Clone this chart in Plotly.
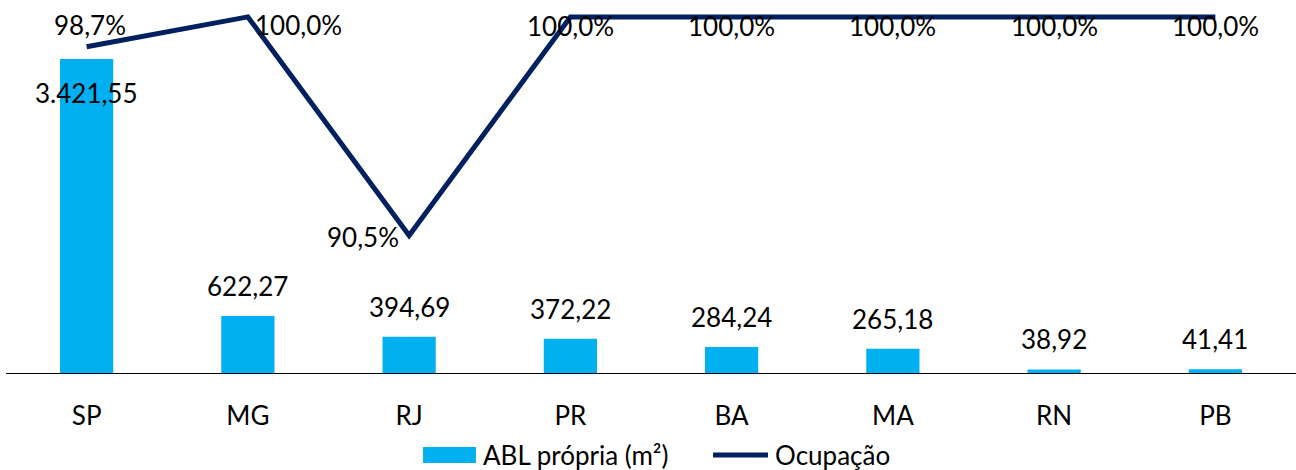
import plotly.graph_objects as go

categories = ["SP", "MG", "RJ", "PR", "BA", "MA", "RN", "PB"]
abl = [3421.55, 622.27, 394.69, 372.22, 284.24, 265.18, 38.92, 41.41]
ocupacao = [98.7, 100.0, 90.5, 100.0, 100.0, 100.0, 100.0, 100.0]
series_names = ["ABL própria (m²)", "Ocupação"]

# label offsets (pixels), matching the reference placement
bar_label_shift = [-34, 30, 30, 30, 30, 30, 30, 30]
line_label_xshift = [3, 51, -46, 0, 0, 0, 0, 0]
line_label_yshift = [22, -8, -2, -9, -9, -9, -9, -9]

FONT = "Lato"
BLUE = "#00B0F0"
NAVY = "#002060"
FS = 26


def br_num(v, d=2):
    s = f"{v:,.{d}f}"
    return s.replace(",", "X").replace(".", ",").replace("X", ".")


fig = go.Figure()
fig.add_trace(go.Bar(
    x=categories, y=abl, name=series_names[0],
    marker=dict(color=BLUE, line=dict(width=0)),
    width=0.33, yaxis="y", showlegend=False,
))
fig.add_trace(go.Scatter(
    x=categories, y=ocupacao, name=series_names[1], mode="lines",
    line=dict(color=NAVY, width=5), yaxis="y2", showlegend=False,
))

annotations = []
for i, (c, v) in enumerate(zip(categories, abl)):
    annotations.append(dict(
        x=c, y=v, xref="x", yref="y", text=br_num(v), showarrow=False,
        yanchor="middle", yshift=bar_label_shift[i],
        font=dict(family=FONT, size=FS, color="#000000"),
    ))
for i, (c, v) in enumerate(zip(categories, ocupacao)):
    annotations.append(dict(
        x=c, y=v, xref="x", yref="y2", text=br_num(v, 1) + "%", showarrow=False,
        yanchor="middle", xshift=line_label_xshift[i], yshift=line_label_yshift[i],
        font=dict(family=FONT, size=FS, color="#000000"),
    ))

# custom legend (wide swatches as in the reference)
annotations.append(dict(x=0.3682, y=-0.2259, xref="paper", yref="paper",
                        text=series_names[0], showarrow=False, xanchor="left",
                        yanchor="middle", font=dict(family=FONT, size=FS)))
annotations.append(dict(x=0.5946, y=-0.2259, xref="paper", yref="paper",
                        text=series_names[1], showarrow=False, xanchor="left",
                        yanchor="middle", font=dict(family=FONT, size=FS)))
shapes = [
    dict(type="rect", xref="paper", yref="paper", x0=0.3233, x1=0.3643,
         y0=-0.2479, y1=-0.2039, fillcolor=BLUE, line=dict(width=0)),
    dict(type="line", xref="paper", yref="paper", x0=0.5481, x1=0.5907,
         y0=-0.2259, y1=-0.2259, line=dict(color=NAVY, width=5)),
]

fig.update_layout(
    width=1296, height=470,
    margin=dict(l=6, r=0, t=10, b=97),
    paper_bgcolor="white", plot_bgcolor="white",
    font=dict(family=FONT, size=FS, color="#000000"),
    showlegend=False,
    xaxis=dict(type="category", range=[-0.5, 7.5], showgrid=False,
               showline=True, linecolor="#000000", linewidth=1.3,
               ticks="", ticklabelstandoff=20, tickfont=dict(family=FONT, size=FS)),
    yaxis=dict(range=[0, 3957], visible=False, showgrid=False),
    yaxis2=dict(range=[84.52, 100.30], overlaying="y", side="right",
                visible=False, showgrid=False),
    annotations=annotations,
    shapes=shapes,
    bargap=0.67,
)

fig.write_html("out.html", config={"displayModeBar": False},
               post_script="document.body.style.margin='0';")
